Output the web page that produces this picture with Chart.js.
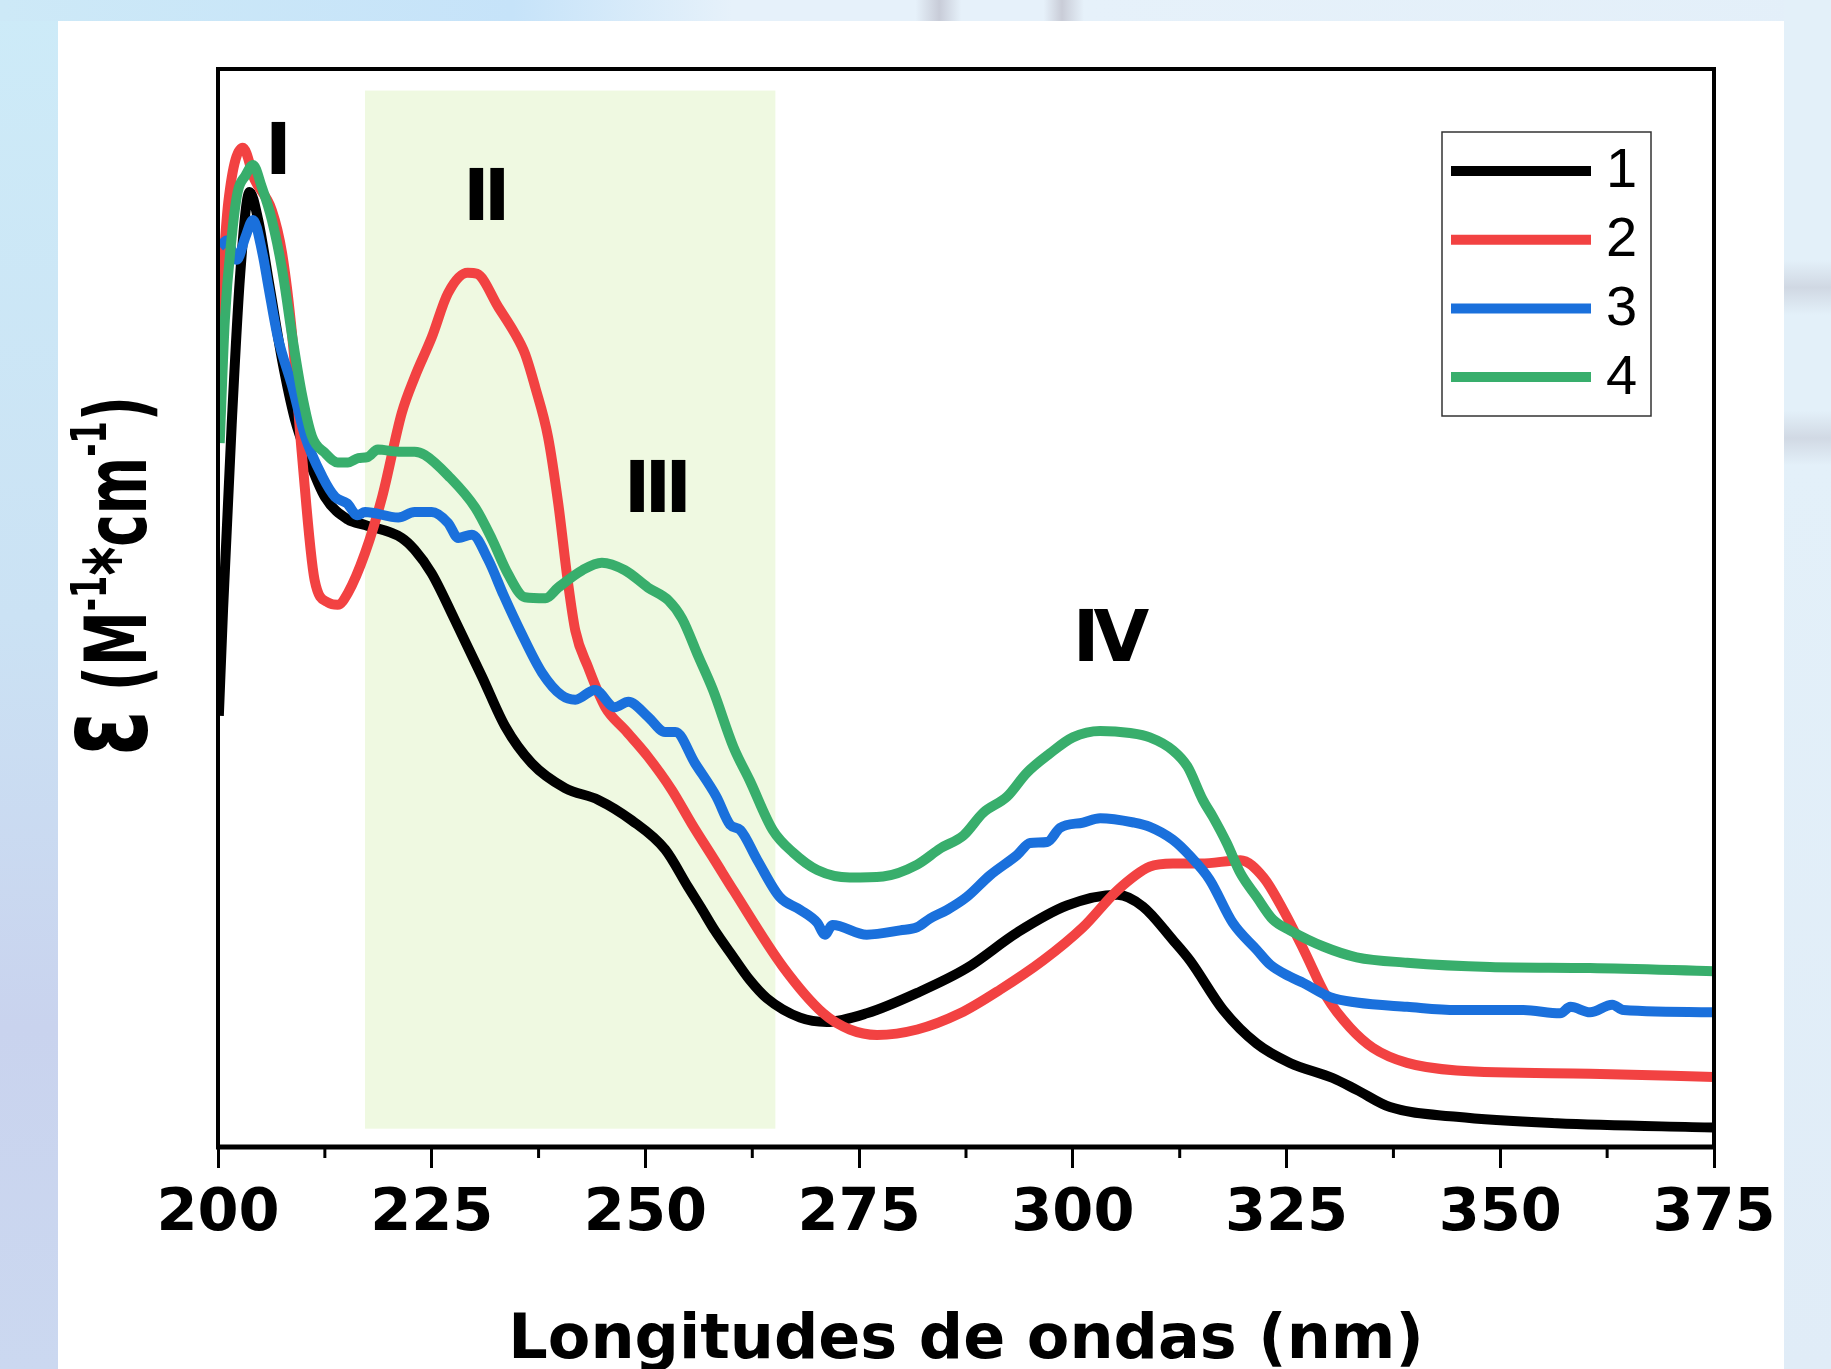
<!DOCTYPE html>
<html>
<head>
<meta charset="utf-8">
<script src="https://cdn.jsdelivr.net/npm/chart.js@4.4.1/dist/chart.umd.min.js"></script>
<style>
  html, body { margin: 0; padding: 0; width: 1831px; height: 1369px; overflow: hidden; }
  body { background: linear-gradient(to bottom, #cdebf8 0%, #cbe2f4 45%, #c9d3ee 75%, #cbd8f0 100%); position: relative; }
  #top { position: absolute; left: 0; top: 0; width: 1831px; height: 21px;
    background: linear-gradient(to right, #cde9f7 0%, #c6e3f9 28%, #e6f1fa 40%, #e6f1fa 50%, #c8ccd8 51.3%, #e6f1fa 52.5%, #e6f1fa 57%, #c9ccd7 58%, #e6f1fa 59.2%, #e3eff9 100%); }
  #right { position: absolute; left: 1784px; top: 0; width: 47px; height: 1369px;
    background: linear-gradient(to bottom, #e3f0f9 0%, #e3f0f9 19%, #d0d8e3 21%, #e3f0f9 23%, #e3f0f9 30%, #d1d9e4 32%, #e3f0f9 34%, #e0ecf7 100%); }
  #panel { position: absolute; left: 58px; top: 21px; width: 1726px; height: 1348px; background: #fff; }
  canvas { position: absolute; left: 0; top: 0; }
</style>
</head>
<body>
<div id="top"></div>
<div id="right"></div>
<div id="panel"></div>
<canvas id="chart" width="1831" height="1369"></canvas>
<script>
// 파장(nm), 몰흡광계수(임의 단위 0~100) 순서쌍
const series1 = [[200.1, 40], [200.6, 50], [201.6, 67], [202.6, 81], [203.7, 88.6], [204.7, 86], [206, 80], [207.5, 73],
  [209, 67.5], [210.5, 64], [212.5, 60.3], [215.2, 58.2], [217.2, 57.7], [221.5, 56.5], [223, 55.4], [225, 53.2],
  [227.7, 48.9], [230.9, 43.6], [233.6, 39], [236.7, 35.6], [240.6, 33.3], [244.5, 32.2], [248.4, 30.3], [252.3, 27.6],
  [255, 24.1], [256.5, 22.2], [258.1, 20.1], [260.3, 17.6], [262.2, 15.5], [264.2, 13.8], [268.1, 12], [271.2, 11.6],
  [275.9, 12.4], [281.8, 14.3], [287.6, 16.6], [293.5, 19.9], [299.3, 22.4], [305.2, 23.4], [308.2, 22.3], [311.7, 19.2],
  [313.7, 17.3], [317.6, 12.7], [321.5, 9.6], [325.4, 7.8], [330.4, 6.4], [333.2, 5.3], [337.1, 3.7], [344.9, 2.8],
  [356.6, 2.2], [375, 1.8]];

const series2 = [[200.2, 77], [201.2, 87.6], [202.9, 92.7], [204.3, 89.7], [206.3, 86.9], [207.5, 82.9], [208.7, 75.1],
  [209.8, 64.4], [211.3, 52.6], [212.9, 50.5], [214, 50.3], [215.2, 51.4], [217.2, 55.1], [219.2, 60.3], [221.5, 68.1],
  [223, 71.4], [225, 75.1], [226.9, 79.2], [229.2, 81.1], [230.3, 81], [232.8, 77.9], [234.7, 75.5], [235.9, 73.6],
  [237.1, 70.5], [238.6, 65.9], [239.8, 59.7], [240.9, 52.6], [241.8, 47.9], [243.3, 44.5], [245.3, 40.8], [247.6, 38.7],
  [250.3, 36.2], [253.1, 33.1], [255.4, 30], [258.1, 26.6], [260.3, 23.8], [266.1, 16.7], [270.8, 12.4], [273.9, 10.9],
  [277.1, 10.4], [281.8, 10.9], [286.8, 12.4], [291.5, 14.6], [296.5, 17.3], [301.2, 20.4], [305.2, 23.8], [309, 26],
  [311.7, 26.3], [315, 26.3], [319.6, 26.6], [322.3, 25], [324.6, 22], [327, 18.3], [329.7, 13.9], [332.4, 11.1],
  [335.1, 9.2], [339.1, 7.8], [344.9, 7.1], [360.5, 6.8], [375, 6.5]];

const series3 = [[200.2, 83.5], [201, 84.1], [202.2, 82.3], [203.2, 84.4], [204.1, 86], [205.2, 82.9], [205.9, 79.8],
  [207, 75.1], [208.7, 70.5], [210.2, 65.9], [212.2, 62.2], [213.7, 60.3], [215.1, 59.7], [216.3, 58.6], [217.2, 58.9],
  [221.1, 58.4], [223, 58.9], [225, 58.9], [226.9, 57.9], [228.1, 56.5], [229.7, 56.8], [231.6, 54.5], [233.4, 51.2],
  [235.4, 47.8], [237.9, 44], [240.2, 41.9], [241.8, 41.5], [244.1, 42.4], [246.4, 40.8], [248, 41.3], [250.3, 39.9],
  [252.3, 38.5], [253.5, 38.5], [255.8, 35.6], [258.3, 32.5], [259.9, 29.9], [261.1, 29.4], [263.1, 26.6], [265.7, 23.2],
  [268.1, 22], [270.1, 20.8], [271, 19.7], [271.9, 20.6], [275.9, 19.7], [279.8, 20.1], [281.8, 20.4], [283.3, 21.2],
  [285.3, 22], [287.6, 23.2], [290.3, 25.2], [293.5, 27.1], [295, 28.2], [297, 28.3], [298.5, 29.6], [301.2, 30.1],
  [303.2, 30.5], [307.1, 30.1], [309, 29.7], [311.7, 28.5], [313.7, 27], [316, 24.8], [318.7, 20.8], [321.5, 18.3],
  [323.1, 16.9], [325.4, 15.8], [327, 15.2], [330.1, 13.9], [333.2, 13.4], [339.1, 13], [344.9, 12.7], [352.7, 12.7],
  [357, 12.4], [358.2, 13], [360.5, 12.5], [363.1, 13.2], [364.4, 12.7], [375, 12.5]];

const series4 = [[200.2, 65.3], [200.8, 76.7], [201.6, 84.4], [202.3, 88.6], [203.2, 90.1], [204.1, 91.1], [205.1, 89.1],
  [206.3, 86], [207.5, 81.4], [208.7, 75.1], [209.8, 69.9], [211, 65.9], [212.5, 64.4], [214, 63.5], [215.2, 63.5],
  [216.4, 63.9], [217.5, 64], [218.7, 64.7], [221.1, 64.5], [223, 64.5], [224.2, 64.2], [226.9, 62.3], [230.1, 59.3],
  [232.1, 56.3], [233.9, 53.2], [235.9, 51], [238.3, 50.9], [239.8, 51.9], [242.6, 53.5], [244.9, 54.2], [247.6, 53.5],
  [250.3, 51.9], [252.7, 50.7], [254.3, 49], [256.2, 45.5], [257.9, 42.4], [260.3, 37.1], [262.2, 34], [264.9, 29.4],
  [267.3, 27.3], [270.1, 25.7], [273.9, 25], [277.8, 25.1], [281.8, 26.2], [284.5, 27.7], [287.2, 28.9], [289.5, 31],
  [292.3, 32.5], [294.6, 34.7], [297.3, 36.5], [300, 38], [303.2, 38.6], [306.7, 38.4], [309, 38], [311.7, 36.8],
  [313.4, 35.3], [315.2, 32.2], [316.4, 30.6], [318, 28.2], [319.6, 25.4], [321.5, 23.2], [323.4, 21.1], [325.4, 20.1],
  [329.3, 18.6], [333.2, 17.6], [339.1, 17.1], [348.8, 16.7], [360.5, 16.6], [375, 16.3]];

const seriesNames = ['1', '2', '3', '4'];
const seriesColors = ['#000000', '#f24242', '#1a70dc', '#38ae6c'];
const xTicks = [200, 225, 250, 275, 300, 325, 350, 375];

// 띠 영역 (파장 범위) 과 봉우리 이름표
const band = [217.2, 265.2];
const peakNames = ['I', 'II', 'III', 'IV'];
const peakX = [206.7, 231.1, 251.1, 304.1];
const peakY = [92.0, 87.7, 60.6, 46.8];

const decor = {
  id: 'decor',
  beforeDatasetsDraw(chart) {
    const {ctx, scales: {x, y}} = chart;
    ctx.save();
    ctx.fillStyle = '#eff9e1';
    const x0 = x.getPixelForValue(band[0]), x1 = x.getPixelForValue(band[1]);
    const y0 = y.getPixelForValue(98), y1 = y.getPixelForValue(1.7);
    ctx.fillRect(x0, y0, x1 - x0, y1 - y0);
    ctx.restore();
  },
  afterDatasetsDraw(chart) {
    const {ctx, chartArea: a, scales: {x, y}} = chart;
    ctx.save();
    // 틀
    ctx.strokeStyle = '#000';
    ctx.lineWidth = 4;
    ctx.strokeRect(a.left, a.top, a.right - a.left, a.bottom - a.top);
    ctx.lineWidth = 5;
    ctx.beginPath(); ctx.moveTo(a.left - 2, a.bottom); ctx.lineTo(a.right + 2, a.bottom); ctx.stroke();
    // 작은 눈금
    ctx.lineWidth = 3;
    for (let i = 0; i < xTicks.length - 1; i++) {
      const px = x.getPixelForValue((xTicks[i] + xTicks[i + 1]) / 2);
      ctx.beginPath(); ctx.moveTo(px, a.bottom); ctx.lineTo(px, a.bottom + 11); ctx.stroke();
    }
    // 봉우리 이름표
    ctx.fillStyle = '#000';
    ctx.font = 'bold 72px "DejaVu Sans"';
    ctx.textAlign = 'center';
    ctx.textBaseline = 'middle';
    ctx.letterSpacing = '-6px';
    peakNames.forEach((t, i) => ctx.fillText(t, x.getPixelForValue(peakX[i]), y.getPixelForValue(peakY[i])));
    ctx.letterSpacing = '0px';
    // 범례
    ctx.lineWidth = 1.5;
    ctx.strokeStyle = '#333';
    ctx.strokeRect(1442, 132, 209, 284);
    ctx.font = '56px "Liberation Sans"';
    ctx.textAlign = 'left';
    chart.data.datasets.forEach((ds, i) => {
      const ly = 171 + i * 68.7;
      ctx.strokeStyle = ds.borderColor;
      ctx.lineWidth = 10;
      ctx.beginPath(); ctx.moveTo(1451, ly); ctx.lineTo(1591, ly); ctx.stroke();
      ctx.fillStyle = '#000';
      ctx.fillText(ds.label, 1606, ly + 1);
    });
    // y축 제목 (세로, 글자 방향으로 눌린 모양)
    ctx.translate(146, 576);
    ctx.rotate(-Math.PI / 2);
    const big = 'bold 86px "DejaVu Sans"', small = 'bold 50px "DejaVu Sans"', eps = 'bold 128px "DejaVu Sans"';
    const parts = [[eps, 'ε', 0], [big, ' (M', 0], [small, '-1', -40], [big, '*cm', 0], [small, '-1', -40], [big, ')', 0]];
    let total = 0;
    parts.forEach(p => { ctx.font = p[0]; total += ctx.measureText(p[1]).width; });
    const squeeze = 360 / total;
    ctx.scale(squeeze, 1);
    let cx = -total / 2;
    ctx.textAlign = 'left';
    ctx.textBaseline = 'alphabetic';
    parts.forEach(p => { ctx.font = p[0]; ctx.fillText(p[1], cx, p[2]); cx += ctx.measureText(p[1]).width; });
    ctx.restore();
  }
};

const datasets = [series1, series2, series3, series4].map((s, i) => ({
  label: seriesNames[i],
  data: s,
  borderColor: seriesColors[i],
  backgroundColor: seriesColors[i],
  borderWidth: 10,
  pointRadius: 0,
  fill: false,
  cubicInterpolationMode: 'monotone',
  borderJoinStyle: 'round',
  order: 4 - i // 4번(초록)이 맨 위
}));

new Chart(document.getElementById('chart'), {
  type: 'line',
  data: { datasets: datasets },
  options: {
    responsive: false,
    animation: false,
    layout: { padding: { left: 218, right: 117, top: 69, bottom: 0 } },
    plugins: { legend: { display: false }, tooltip: { enabled: false } },
    scales: {
      x: {
        type: 'linear',
        min: 200,
        max: 375,
        afterBuildTicks: s => { s.ticks = xTicks.map(v => ({ value: v })); },
        afterFit: s => { s.height = 222; },
        border: { display: false },
        grid: { drawOnChartArea: false, drawTicks: true, tickLength: 21, color: '#000', lineWidth: 3 },
        ticks: {
          autoSkip: false, maxRotation: 0, padding: 11, color: '#000',
          font: { family: 'DejaVu Sans', size: 59, weight: 'bold' }
        },
        title: {
          display: true, text: 'Longitudes de ondas (nm)', color: '#000', padding: { top: 0, bottom: -10 },
          font: { family: 'DejaVu Sans', size: 62, weight: 'bold' }
        }
      },
      y: { display: false, min: 0, max: 100 }
    }
  },
  plugins: [decor]
});
</script>
</body>
</html>
